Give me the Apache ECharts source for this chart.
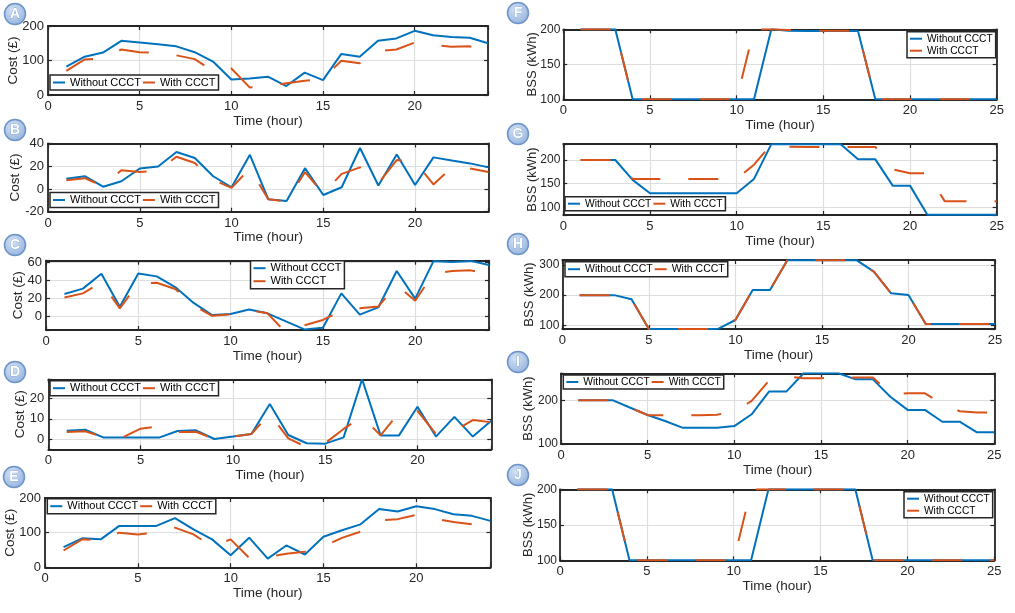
<!DOCTYPE html>
<html>
<head>
<meta charset="utf-8">
<script src="https://cdn.jsdelivr.net/npm/echarts@6/dist/echarts.min.js"></script>
<style>
html, body { margin: 0; padding: 0; background: #fff; }
#chart { width: 1015px; height: 613px; }
</style>
</head>
<body>
<div id="chart"></div>
<script>
// hours on the x axis
var hoursLeft = [1, 2, 3, 4, 5, 6, 7, 8, 9, 10, 11, 12, 13, 14, 15, 16, 17, 18, 19, 20, 21, 22, 23, 24];
var hoursRight = [1, 2, 3, 4, 5, 6, 7, 8, 9, 10, 11, 12, 13, 14, 15, 16, 17, 18, 19, 20, 21, 22, 23, 24, 25];
var timeTicksLeft = [0, 5, 10, 15, 20];
var timeTicksRight = [0, 5, 10, 15, 20, 25];

// cost (£) panels A-E
var costA_without = [82, 111, 123, 157, 152, 147, 141, 124, 97, 45, 48, 53, 26, 65, 43, 119, 111, 157, 164, 186, 173, 168, 166, 150];
var costA_with = [70, 103, 106, 132, 124, 123, 115, 104, 70, 77, 22, 25, 34, 41, 48, 99, 92, 127, 132, 152, 145, 140, 141, 125];
var costB_without = [8.9, 11.2, 2, 6.8, 18, 19.8, 32.5, 27.2, 11.2, 1.5, 30, -9, -10.5, 18.3, -5.3, 1.5, 36, 3, 30.4, 3.5, 27.8, 25, 22.5, 19];
var costB_with = [7.7, 9.5, 2.5, 16.5, 15, 16, 28.4, 22.8, 8, 1, 18, -9, -11, 14.8, -4, 13.3, 19, 5, 25.4, 24, 4, 19, 18, 15];
var costC_without = [25, 31, 47.7, 10.8, 48, 44.7, 32.8, 15, 1.5, 2.6, 7.8, 3.4, -5.6, -14.5, -12.7, 25.7, 1.9, 10, 50.7, 19.8, 62, 60.8, 62, 57.4];
var costC_with = [21, 25.7, 38, 9, 37, 37.6, 30.6, 12, 0.7, 2.2, 7, 3.4, -18, -10, -4, 6.3, 9, 11, 35, 17.5, 48, 50.7, 51.4, 47];
var costD_without = [4.1, 4.6, 0.7, 0.7, 0.7, 0.7, 4, 4.3, 0, 1.2, 2.5, 17.4, 2, -2.1, -2.3, 0.8, 29.6, 1.8, 1.8, 16, 1.2, 11, 1.2, 9.1];
var costD_with = [3.5, 3.8, 1, 0.7, 5.1, 6.3, 3.5, 3.6, 0, 1.2, 2.5, 12.5, 0.3, -4, -2, 5, 11, 1.8, 13, 14, 2.5, 4, 9.4, 8.3];
var costE_without = [58, 83.5, 80.6, 119.4, 119.4, 119.4, 141.7, 109.7, 80.6, 35, 85.4, 25.2, 63, 37, 88, 107, 124, 168, 161, 176, 168, 153, 148.5, 134];
var costE_with = [48.5, 80.6, 78, 100, 95, 100, 114.6, 95, 60, 80.6, 27, 30, 39, 44.7, 60, 85, 103, 135, 139, 151.5, 140, 131, 124, 107];

// BSS (kWh) panels F-J
var bssF_without = [200, 200, 200, 100, 100, 100, 100, 100, 100, 100, 100, 200, 198, 197.5, 197.5, 197.5, 197.5, 100, 100, 100, 100, 100, 100, 100, 100];
var bssF_with = [200, 200, 200, 100, 100, 100, 100, 100, 100, 100, 200, 200, 199, 198, 198, 198, 198, 100, 100, 100, 100, 100, 100, 100, 100];
var bssG_without = [200, 200, 200, 158, 129.6, 129.6, 129.6, 129.6, 129.6, 129.6, 160, 233.5, 233.5, 233.5, 233.5, 233.5, 201.4, 201.4, 145.8, 145.8, 84, 84, 84, 84, 84];
var bssG_with = [200, 200, 200, 160, 160, 160, 160, 160, 160, 160, 190, 233.5, 228, 227.5, 227.5, 227.5, 227.5, 227.5, 180, 172, 172, 113, 113, 113, 113];
var bssH_without = [200, 200, 200, 186.7, 88, 88, 88, 88, 88, 117.6, 217, 217, 316, 316, 316, 316, 316, 278, 206, 200.6, 104.4, 104.4, 104.4, 104.4, 104.4];
var bssH_with = [200, 200, 200, 186.7, 88, 88, 88, 88, 88, 117.6, 217, 217, 316, 316, 316, 316, 316, 278, 206, 200.6, 104.4, 104.4, 104.4, 104.4, 104.4];
var bssI_without = [200, 200, 200, 183, 166.4, 152.7, 137.4, 137.4, 137.4, 141, 168, 220, 220, 262, 262, 262, 248, 248, 208, 178, 178, 151, 151, 126.7, 126.7];
var bssI_with = [200, 200, 200, 183, 166, 166, 166, 166, 167, 175, 198.5, 245, 255, 250.5, 250.5, 252, 252, 252, 215, 216, 216, 191.6, 175, 172, 172];
var bssJ_without = [200, 200, 200, 100, 100, 100, 100, 100, 100, 100, 100, 200, 200, 200, 200, 200, 200, 100, 100, 100, 100, 100, 100, 100, 100];
var bssJ_with = [200, 200, 200, 100, 100, 100, 100, 100, 100, 100, 200, 200, 200, 200, 200, 200, 200, 100, 100, 100, 100, 100, 100, 100, 100];

// y tick labels
var ticksA = [0, 100, 200];
var ticksB = [-20, 0, 20, 40];
var ticksC = [0, 20, 40, 60];
var ticksD = [0, 10, 20];
var ticksE = [0, 100, 200];
var ticksF = [100, 150, 200];
var ticksG = [100, 150, 200];
var ticksH = [100, 200, 300];
var ticksI = [100, 200];
var ticksJ = [100, 150, 200];

var blue = '#0072BD', orange = '#D95319', ink = '#262626';
var font = 'Liberation Sans';

var panels = [
    { tag: 'A', side: 'L', without: costA_without, withC: costA_with, ticks: ticksA, yMin: 0, yMax: 200, step: 100, nameGap: 28,
      grid: { left: 48, top: 26, width: 440, height: 69 }, legend: { left: 50, top: 75, orient: 'horizontal', size: 11 }, badge: [15, 14] },
    { tag: 'B', side: 'L', without: costB_without, withC: costB_with, ticks: ticksB, yMin: -20, yMax: 40, step: 20, nameGap: 25.5,
      grid: { left: 48, top: 143.5, width: 440.5, height: 68.2 }, legend: { left: 50, top: 192.5, orient: 'horizontal', size: 11 }, badge: [15, 130] },
    { tag: 'C', side: 'L', without: costC_without, withC: costC_with, ticks: ticksC, yMin: -15.2, yMax: 62.2, step: 20, nameGap: 21,
      grid: { left: 46, top: 260.7, width: 443, height: 69.3 }, legend: { left: 250.5, top: 260.7, orient: 'vertical', size: 11 }, badge: [15, 245] },
    { tag: 'D', side: 'L', without: costD_without, withC: costD_with, ticks: ticksD, yMin: -5.1, yMax: 29.6, step: 10, nameGap: 21.5,
      grid: { left: 48.3, top: 379.3, width: 443, height: 70 }, legend: { left: 50, top: 380.7, orient: 'horizontal', size: 11 }, badge: [15, 372] },
    { tag: 'E', side: 'L', without: costE_without, withC: costE_with, ticks: ticksE, yMin: 0, yMax: 200, step: 100, nameGap: 27.5,
      grid: { left: 45, top: 498, width: 445.5, height: 69.3 }, legend: { left: 47.3, top: 498.7, orient: 'horizontal', size: 11 }, badge: [14, 477] },
    { tag: 'F', side: 'R', without: bssF_without, withC: bssF_with, ticks: ticksF, yMin: 100, yMax: 200, step: 50, nameGap: 24,
      grid: { left: 563.3, top: 29.3, width: 433.4, height: 70 }, legend: { left: 907, top: 31.7, orient: 'vertical', size: 10.2 }, badge: [518, 13] },
    { tag: 'G', side: 'R', without: bssG_without, withC: bssG_with, ticks: ticksG, yMin: 83.7, yMax: 233.8, step: 50, nameGap: 24,
      grid: { left: 563.3, top: 144, width: 433.4, height: 71 }, legend: { left: 565, top: 196.7, orient: 'horizontal', size: 10.3 }, badge: [518, 134] },
    { tag: 'H', side: 'R', without: bssH_without, withC: bssH_with, ticks: ticksH, yMin: 87.7, yMax: 316.6, step: 100, nameGap: 26,
      grid: { left: 562.3, top: 260, width: 432.7, height: 69 }, legend: { left: 565, top: 261.7, orient: 'horizontal', size: 10.5 }, badge: [518, 244] },
    { tag: 'I', side: 'R', without: bssI_without, withC: bssI_with, ticks: ticksI, yMin: 100, yMax: 261.8, step: 100, nameGap: 26,
      grid: { left: 561, top: 373.3, width: 433.3, height: 70.7 }, legend: { left: 563.3, top: 375, orient: 'horizontal', size: 10.3 }, badge: [518, 362] },
    { tag: 'J', side: 'R', without: bssJ_without, withC: bssJ_with, ticks: ticksJ, yMin: 100, yMax: 200, step: 50, nameGap: 25,
      grid: { left: 560, top: 489.3, width: 434.3, height: 71 }, legend: { left: 904, top: 491.7, orient: 'vertical', size: 10.2 }, badge: [518, 475] }
];

var grids = [], xAxes = [], yAxes = [], series = [], legends = [], graphics = [];

panels.forEach(function (p, i) {
    var hours = p.side === 'L' ? hoursLeft : hoursRight;
    var xMax = p.side === 'L' ? 24 : 25;
    var xTicks = p.side === 'L' ? timeTicksLeft : timeTicksRight;
    var yLabelSize = p.side === 'L' ? 13 : 12;

    grids.push({ left: p.grid.left, top: p.grid.top, width: p.grid.width, height: p.grid.height, containLabel: false });

    var frameLine = { show: true, onZero: false, lineStyle: { color: ink, width: 1.8 } };
    var innerTick = { show: true, inside: true, length: 4, lineStyle: { color: ink, width: 1.2 } };

    // bottom + top x axes (top one only closes the box)
    xAxes.push({
        type: 'value', gridIndex: i, position: 'bottom', min: 0, max: xMax, interval: 5,
        axisLine: frameLine, axisTick: innerTick,
        axisLabel: { customValues: xTicks, color: ink, fontFamily: font, fontSize: 13, margin: 5 },
        splitLine: { show: true, lineStyle: { color: '#dedede', width: 1.2 } },
        name: 'Time (hour)', nameLocation: 'middle', nameGap: 19, nameMoveOverlap: false,
        nameTextStyle: { color: ink, fontFamily: font, fontSize: 13.5 }
    });
    xAxes.push({
        type: 'value', gridIndex: i, position: 'top', min: 0, max: xMax, interval: 5,
        axisLine: frameLine, axisTick: innerTick, axisLabel: { show: false }, splitLine: { show: false }
    });

    var yBase = { type: 'value', gridIndex: i, min: p.yMin, max: p.yMax };
    if (Math.abs(p.yMin % p.step) < 1e-9) {
        yBase.interval = p.step;
    } else {
        yBase.splitNumber = Math.round((p.yMax - p.yMin) / p.step);
    }
    yAxes.push(Object.assign({}, yBase, {
        position: 'left',
        axisLine: frameLine, axisTick: innerTick,
        axisLabel: { customValues: p.ticks, color: ink, fontFamily: font, fontSize: yLabelSize, margin: p.side === 'L' ? 4 : 3 },
        splitLine: { show: true, lineStyle: { color: '#dedede', width: 1.2 } },
        name: p.side === 'L' ? 'Cost (£)' : 'BSS (kWh)', nameLocation: 'middle', nameGap: p.nameGap,
        nameMoveOverlap: false,
        nameTextStyle: { color: ink, fontFamily: font, fontSize: p.side === 'L' ? 13.5 : 13 }
    }));
    yAxes.push(Object.assign({}, yBase, {
        position: 'right',
        axisLine: frameLine, axisTick: innerTick, axisLabel: { show: false }, splitLine: { show: false }
    }));

    series.push({
        name: 'Without CCCT', type: 'line', xAxisIndex: 2 * i, yAxisIndex: 2 * i,
        data: hours.map(function (h, k) { return [h, p.without[k]]; }),
        showSymbol: false, symbol: 'none', color: blue,
        lineStyle: { color: blue, width: 2 }, z: 3
    });
    series.push({
        name: 'With CCCT', type: 'line', xAxisIndex: 2 * i, yAxisIndex: 2 * i,
        data: hours.map(function (h, k) { return [h, p.withC[k]]; }),
        showSymbol: false, symbol: 'none', color: orange,
        lineStyle: { color: orange, width: 2, type: [30, 28] }, z: 4
    });

    legends.push({
        data: ['Without CCCT', 'With CCCT'], left: p.legend.left, top: p.legend.top, orient: p.legend.orient,
        selectedMode: false, icon: 'rect', itemWidth: 12, itemHeight: 2,
        itemGap: p.legend.orient === 'vertical' ? 2 : 2,
        padding: [2, 3], backgroundColor: '#fff', borderColor: ink, borderWidth: 1.5, borderRadius: 0,
        textStyle: { color: '#000', fontFamily: font, fontSize: p.legend.size }, z: 10
    });

    // panel letter badge
    graphics.push({
        type: 'circle', shape: { cx: p.badge[0], cy: p.badge[1], r: 10.5 }, z: 20,
        style: {
            fill: { type: 'radial', x: 0.4, y: 0.35, r: 0.75, colorStops: [
                { offset: 0, color: '#d5e2f4' }, { offset: 1, color: '#8eaedb' }] },
            stroke: '#6d93c8', lineWidth: 1.5
        }
    });
    graphics.push({
        type: 'text', x: p.badge[0], y: p.badge[1] + 0.5, z: 21,
        style: { text: p.tag, fill: '#fff', stroke: '#6d93c8', lineWidth: 0.6,
                 font: 'bold 14px ' + font, align: 'center', verticalAlign: 'middle' }
    });
});

var chart = echarts.init(document.getElementById('chart'));
chart.setOption({
    animation: false,
    backgroundColor: '#fff',
    grid: grids,
    xAxis: xAxes,
    yAxis: yAxes,
    legend: legends,
    series: series,
    graphic: graphics
});
</script>
</body>
</html>
